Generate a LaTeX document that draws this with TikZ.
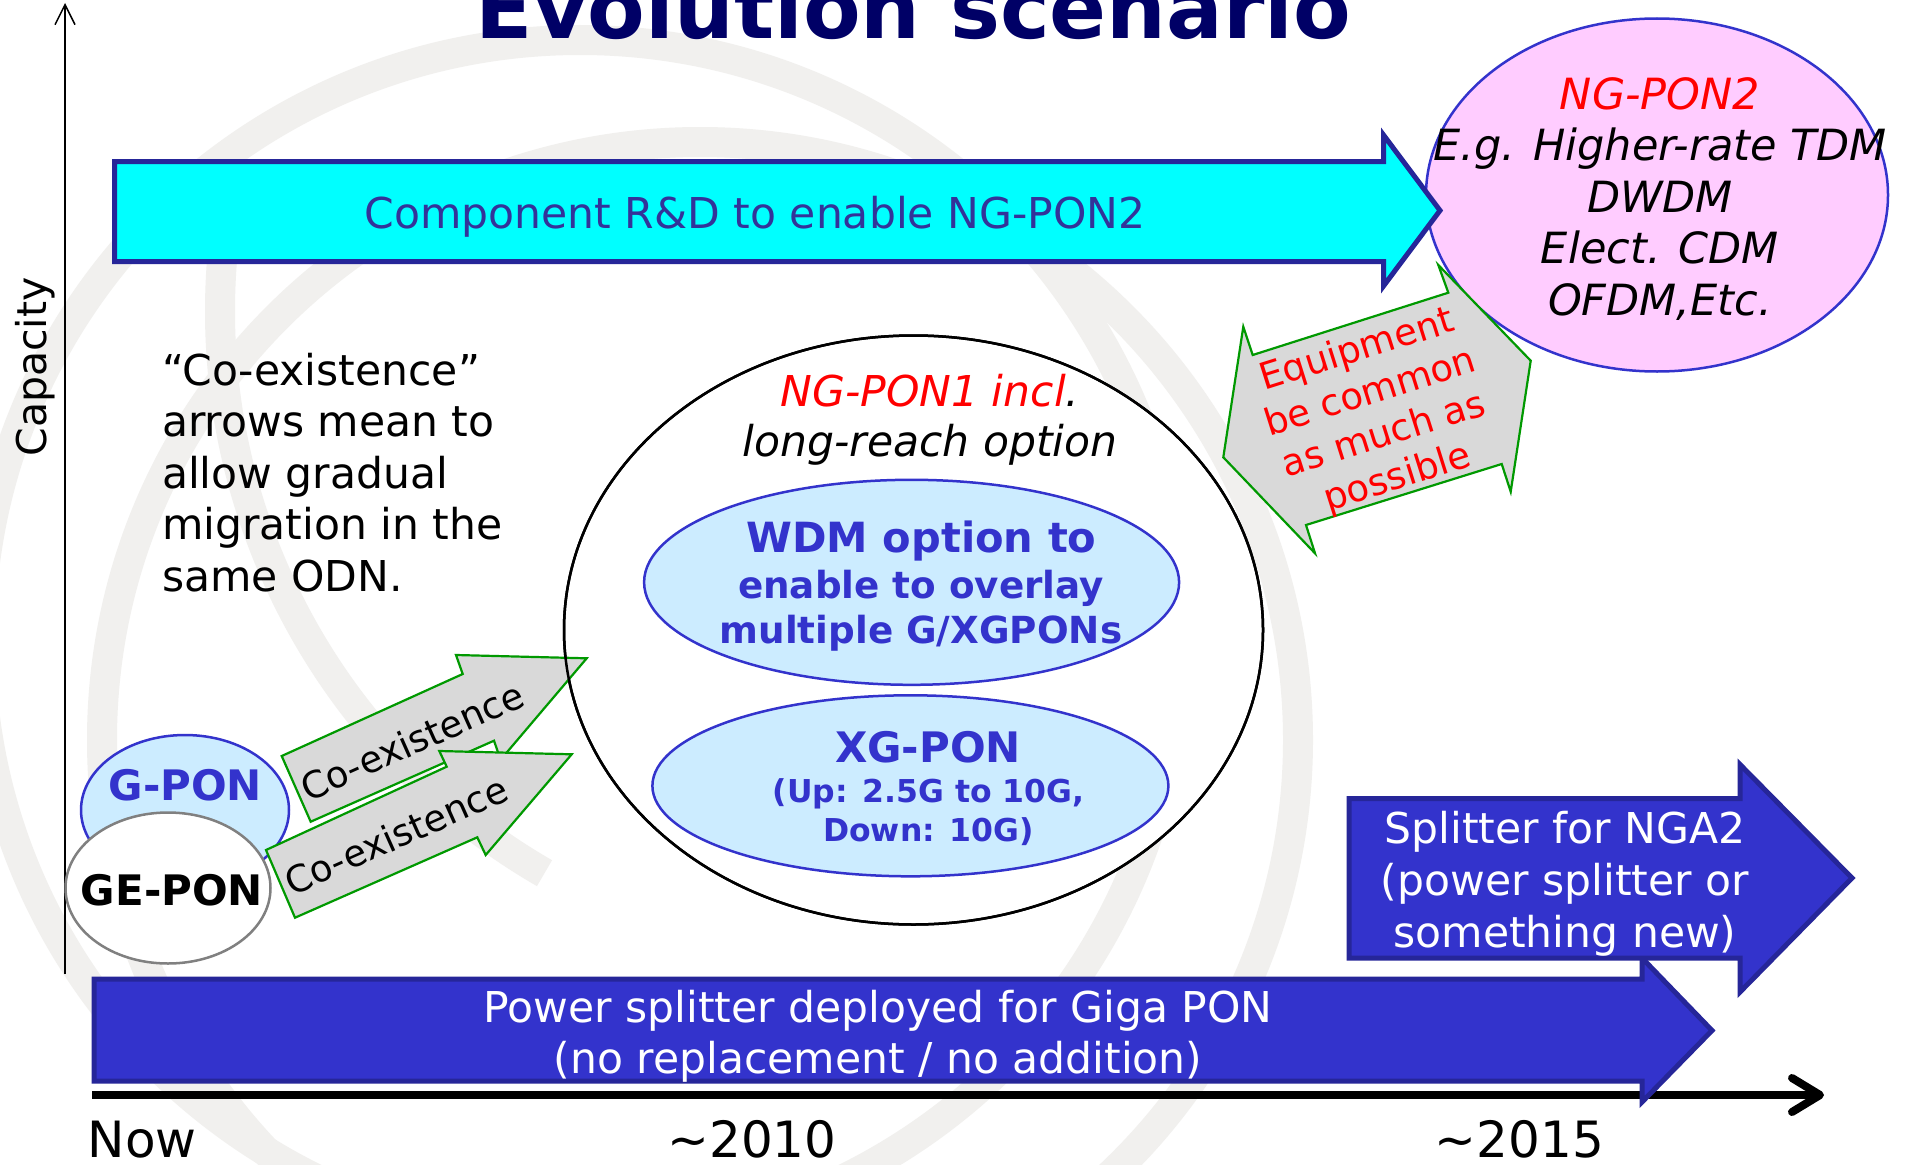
\documentclass[tikz,border=0pt]{standalone}
\usepackage{fontspec}
\setmainfont{DejaVu Sans}
\usetikzlibrary{arrows.meta,shapes.geometric}

\definecolor{titlenavy}{HTML}{000066}
\definecolor{ponblue}{HTML}{3333CC}
\definecolor{arrowedge}{HTML}{262699}
\definecolor{rdtext}{HTML}{333399}
\definecolor{lightblue}{HTML}{CCECFF}
\definecolor{pinkfill}{HTML}{FFCCFF}
\definecolor{grayfill}{HTML}{D9D9D9}
\definecolor{greenedge}{HTML}{009900}
\definecolor{wmgray}{HTML}{F1F0EE}
\definecolor{aqua}{HTML}{00FFFF}
\definecolor{geponedge}{HTML}{808080}

\newcommand\fsz[2]{\fontsize{#1}{#2}\selectfont}

\begin{document}
\begin{tikzpicture}[x=1pt,y=-1pt,
  txt/.style={inner sep=0pt, outer sep=0pt, anchor=base},
  reg/.style={txt, font=\fsz{42.5}{51.5}},
  itx/.style={txt, font=\itshape\fsz{43}{51.5}},
  bld/.style={txt, font=\bfseries\fsz{42}{46}},
  wm/.style={draw=wmgray, line width=30pt},
  bubble/.style={ellipse, inner sep=0pt, outer sep=0pt, line width=2.5pt},
  blockarrow/.style={line width=5pt, draw=arrowedge, line join=miter},
  coexarrow/.style={line width=2.2pt, draw=greenedge, fill=grayfill, line join=miter},
]
\useasboundingbox (0,0) rectangle (1910,1164);
\clip (0,0) rectangle (1910,1164);
\fill[white] (0,0) rectangle (1910,1164);

% faint globe watermark (multi-line nodes below are anchored at their last baseline)
\draw[wm] (580,640) circle [radius=600pt];
\draw[wm] (700,740) circle [radius=598pt];
\draw[wm] (869,198) ++(175:649) arc [start angle=175, end angle=240, radius=649pt];

% title
\node[txt, font=\bfseries\fsz{84}{84}, text=titlenavy] (title) at (913.5,38) {Evolution scenario};

% capacity axis
\coordinate (yaxis0) at (65,974);
\coordinate (yaxis1) at (65,3);
\draw[line width=1.5pt, -{Straight Barb[length=20pt,width=20pt]}] (yaxis0) -- (yaxis1);
\node[inner sep=0pt, rotate=90, font=\fsz{41}{41}] (capacity) at (35,367) {Capacity};

% NG-PON2 bubble
\node[bubble, draw=ponblue, fill=pinkfill, minimum width=462pt, minimum height=353pt] (ngpon2) at (1657,195) {};
\node[itx, align=center] (ngpon2txt) at (1660,315)
  {{\color{red}NG-PON2}\\E.g. Higher-rate TDM\\DWDM\\Elect. CDM\\OFDM,Etc.};

% component R&D arrow
\draw[blockarrow, fill=aqua] (114.5,161.5) -- (1383.5,161.5) -- (1383.5,135) -- (1440,210.5)
  -- (1383.5,286) -- (1383.5,261.5) -- (114.5,261.5) -- cycle;
\node[reg, text=rdtext] (rdtxt) at (755,228) {Component R\&D to enable NG-PON2};

% common equipment double arrow
\draw[coexarrow] (1252.7,355) -- (1448.3,292.7) -- (1438.3,265) -- (1530.7,360.7)
  -- (1510.7,491.7) -- (1501.7,464) -- (1306,525) -- (1315,553.3)
  -- (1223.3,457.3) -- (1243.3,326.7) -- cycle;
\node[inner sep=0pt, rotate=17.5, align=center, text=red, font=\fsz{37}{44.7}] (equiptxt) at (1377.5,415)
  {Equipment\\be common\\as much as\\possible};

% explanatory note
\node[reg, align=left, anchor=base west] (note) at (162,591)
  {“Co-existence”\\arrows mean to\\allow gradual\\migration in the\\same ODN.};

% NG-PON1 bubble with its two inner options
\node[bubble, draw=black, fill=white, minimum width=699pt, minimum height=589pt] (ngpon1) at (913.5,630) {};
\node[itx, align=center, font=\itshape\fsz{42.5}{50}] (ngpon1txt) at (930,456.3)
  {{\color{red}NG-PON1 incl}.\\long-reach option};
\node[bubble, draw=ponblue, fill=lightblue, minimum width=535pt, minimum height=205pt] (wdm) at (911.6,582.3) {};
\node[bld, text=ponblue, font=\bfseries\fsz{41.6}{45}] (wdmtxt1) at (921.5,552.7) {WDM option to};
\node[bld, text=ponblue, align=center, font=\bfseries\fsz{37.3}{45}] (wdmtxt2) at (921,643)
  {enable to overlay\\multiple G/XGPONs};
\node[bubble, draw=ponblue, fill=lightblue, minimum width=516pt, minimum height=181pt] (xgpon) at (910.4,785.8) {};
\node[bld, text=ponblue] (xgtxt1) at (928,762.5) {XG-PON};
\node[bld, text=ponblue, align=center, font=\bfseries\fsz{31.5}{38.5}] (xgtxt2) at (928.5,841)
  {(Up: 2.5G to 10G,\\Down: 10G)};

% G-PON and GE-PON bubbles
\node[bubble, draw=ponblue, fill=lightblue, minimum width=208pt, minimum height=150pt] (gpon) at (185,810) {};
\node[bld, text=ponblue] (gpontxt) at (185.3,800) {G-PON};
\node[bubble, draw=geponedge, fill=white, minimum width=205pt, minimum height=151pt] (gepon) at (168,888) {};
\node[bld] (gepontxt) at (172,905) {GE-PON};

% co-existence arrows
\draw[coexarrow] (281.7,756) -- (462.7,674) -- (456,655) -- (586.7,658.3)
  -- (500.6,759.7) -- (494,740.7) -- (310.7,821.7) -- cycle;
\node[inner sep=0pt, rotate=24, font=\fsz{37}{44}] (coex1) at (412,741) {Co-existence};
\draw[coexarrow] (266,850) -- (446.7,766.7) -- (439.3,751) -- (571.7,754.3)
  -- (485.7,855) -- (477.3,837.3) -- (295,917.7) -- cycle;
\node[inner sep=0pt, rotate=24, font=\fsz{37}{44}] (coex2) at (396,835) {Co-existence};

% outline of the NG-PON1 bubble stays on top of the arrow tips
\draw[line width=2.5pt] (ngpon1.center) ellipse [x radius=349.5pt, y radius=294.5pt];

% time axis
\coordinate (xaxis0) at (92,1095);
\coordinate (xaxis1) at (1824,1095);
\draw[line width=8pt, -{Straight Barb[length=28pt,width=34pt,round]}] (xaxis0) -- (xaxis1);

% splitter arrows
\draw[blockarrow, fill=ponblue] (94,979) -- (1642,979) -- (1642,958) -- (1712,1030.5)
  -- (1642,1102) -- (1642,1081) -- (94,1081) -- cycle;
\node[reg, align=center, text=white, font=\fsz{42.5}{51}] (powtxt) at (878,1073)
  {Power splitter deployed for Giga PON\\(no replacement / no addition)};
\draw[blockarrow, fill=ponblue] (1349,798.5) -- (1740,798.5) -- (1740,764.5) -- (1852,878)
  -- (1740,992) -- (1740,958) -- (1349,958) -- cycle;
\node[reg, align=center, text=white, font=\fsz{42.5}{51.7}] (spltxt) at (1565,947)
  {Splitter for NGA2\\(power splitter or\\something new)};

% time labels
\node[txt, font=\fsz{50}{50}] (tnow) at (142.4,1157) {Now};
\node[txt, font=\fsz{50}{50}] (t2010) at (752,1157) {\textasciitilde2010};
\node[txt, font=\fsz{50}{50}] (t2015) at (1519.5,1157) {\textasciitilde2015};
\end{tikzpicture}
\end{document}
